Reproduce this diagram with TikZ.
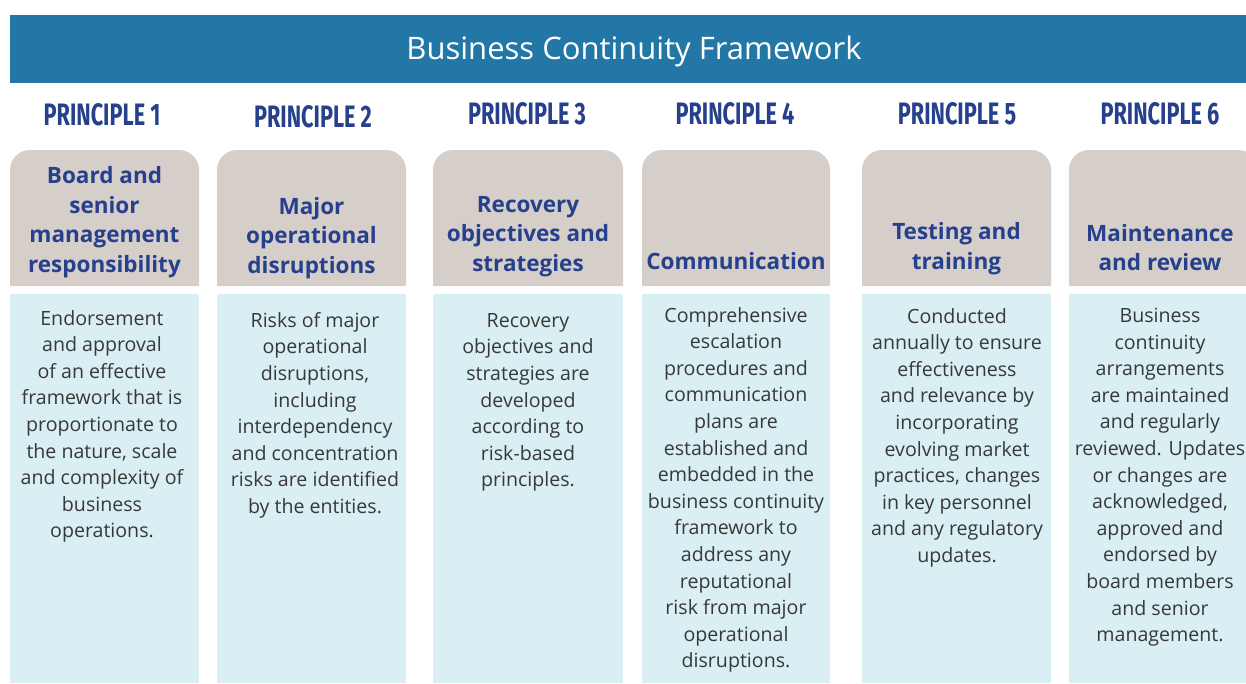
\documentclass[tikz,border=0pt]{standalone}
\usepackage{fontspec}
\setmainfont{Open Sans}
\newfontfamily\headfont{Fira Sans}
\definecolor{barblue}{HTML}{2377A6}
\definecolor{navy}{HTML}{26408D}
\definecolor{headgray}{HTML}{D5CEC9}
\definecolor{bodyblue}{HTML}{D9EFF3}
\definecolor{bodytext}{HTML}{383838}
\tikzset{
  prin/.style={font=\headfont\bfseries\fontsize{31}{31}\selectfont, text=navy, inner sep=0pt},
  headtxt/.style={font=\bfseries\fontsize{22.5}{29.5}\selectfont, text=navy, align=center, anchor=south, inner sep=0pt},
  bodytxt/.style={font=\fontsize{19.6}{26.6}\selectfont, text=bodytext, align=center, anchor=north, inner sep=0pt},
  titletxt/.style={font=\fontsize{31}{31}\selectfont, text=white, inner sep=0pt}
}
\newcommand{\prtxt}[1]{\scalebox{0.7}[1]{#1}}
\begin{document}
\begin{tikzpicture}[x=1pt,y=-1pt]
\useasboundingbox (0,0) rectangle (1246,683);
\fill[white] (0,0) rectangle (1246,683);
% title bar
\fill[barblue] (10,15) rectangle (1246,83);
\node[titletxt] (title) at (634,51) {Business Continuity Framework};
% columns
\foreach \i/\xa/\xb in {1/10/199, 2/217/406, 3/433/623, 4/642/830, 5/862/1051, 6/1069/1258}{
  \fill[headgray] (\xa,286) [rounded corners=20pt] -- (\xa,150) -- (\xb,150) [sharp corners] -- (\xb,286) -- cycle;
  \fill[bodyblue] (\xa,294) rectangle (\xb,683);
}
% principle labels
\node[prin] (p1) at (102,115) {\prtxt{PRINCIPLE 1}};
\node[prin] (p2) at (313,117) {\prtxt{PRINCIPLE 2}};
\node[prin] (p3) at (527,114) {\prtxt{PRINCIPLE 3}};
\node[prin] (p4) at (735,114) {\prtxt{PRINCIPLE 4}};
\node[prin] (p5) at (957,114) {\prtxt{PRINCIPLE 5}};
\node[prin] (p6) at (1160,114) {\prtxt{PRINCIPLE 6}};
% header texts
\node[headtxt] (h1) at (104.5,278) {Board and\\senior\\management\\responsibility};
\node[headtxt] (h2) at (311.5,279) {Major\\operational\\disruptions};
\node[headtxt] (h3) at (528,277) {Recovery\\objectives and\\strategies};
\node[headtxt] (h4) at (736,270) {Communication};
\node[headtxt] (h5) at (956.5,275) {Testing and\\training};
\node[headtxt] (h6) at (1160,271) {Maintenance\\and review};
% body texts
\node[bodytxt] (b1) at (102,310) {Endorsement\\and approval\\of an effective\\framework that is\\proportionate to\\the nature, scale\\and complexity of\\business\\operations.};
\node[bodytxt] (b2) at (315,312) {Risks of major\\operational\\disruptions,\\including\\interdependency\\and concentration\\risks are identified\\by the entities.};
\node[bodytxt] (b3) at (528,313) {Recovery\\objectives and\\strategies are\\developed\\according to\\risk-based\\principles.};
\node[bodytxt] (b4) at (736,307) {Comprehensive\\escalation\\procedures and\\communication\\plans are\\established and\\embedded in the\\business continuity\\framework to\\address any\\reputational\\risk from major\\operational\\disruptions.};
\node[bodytxt] (b5) at (957,308) {Conducted\\annually to ensure\\effectiveness\\and relevance by\\incorporating\\evolving market\\practices, changes\\in key personnel\\and any regulatory\\updates.};
\node[bodytxt] (b6) at (1160,308) {Business\\continuity\\arrangements\\are maintained\\and regularly\\reviewed. Updates\\or changes are\\acknowledged,\\approved and\\endorsed by\\board members\\and senior\\management.};
\end{tikzpicture}
\end{document}
